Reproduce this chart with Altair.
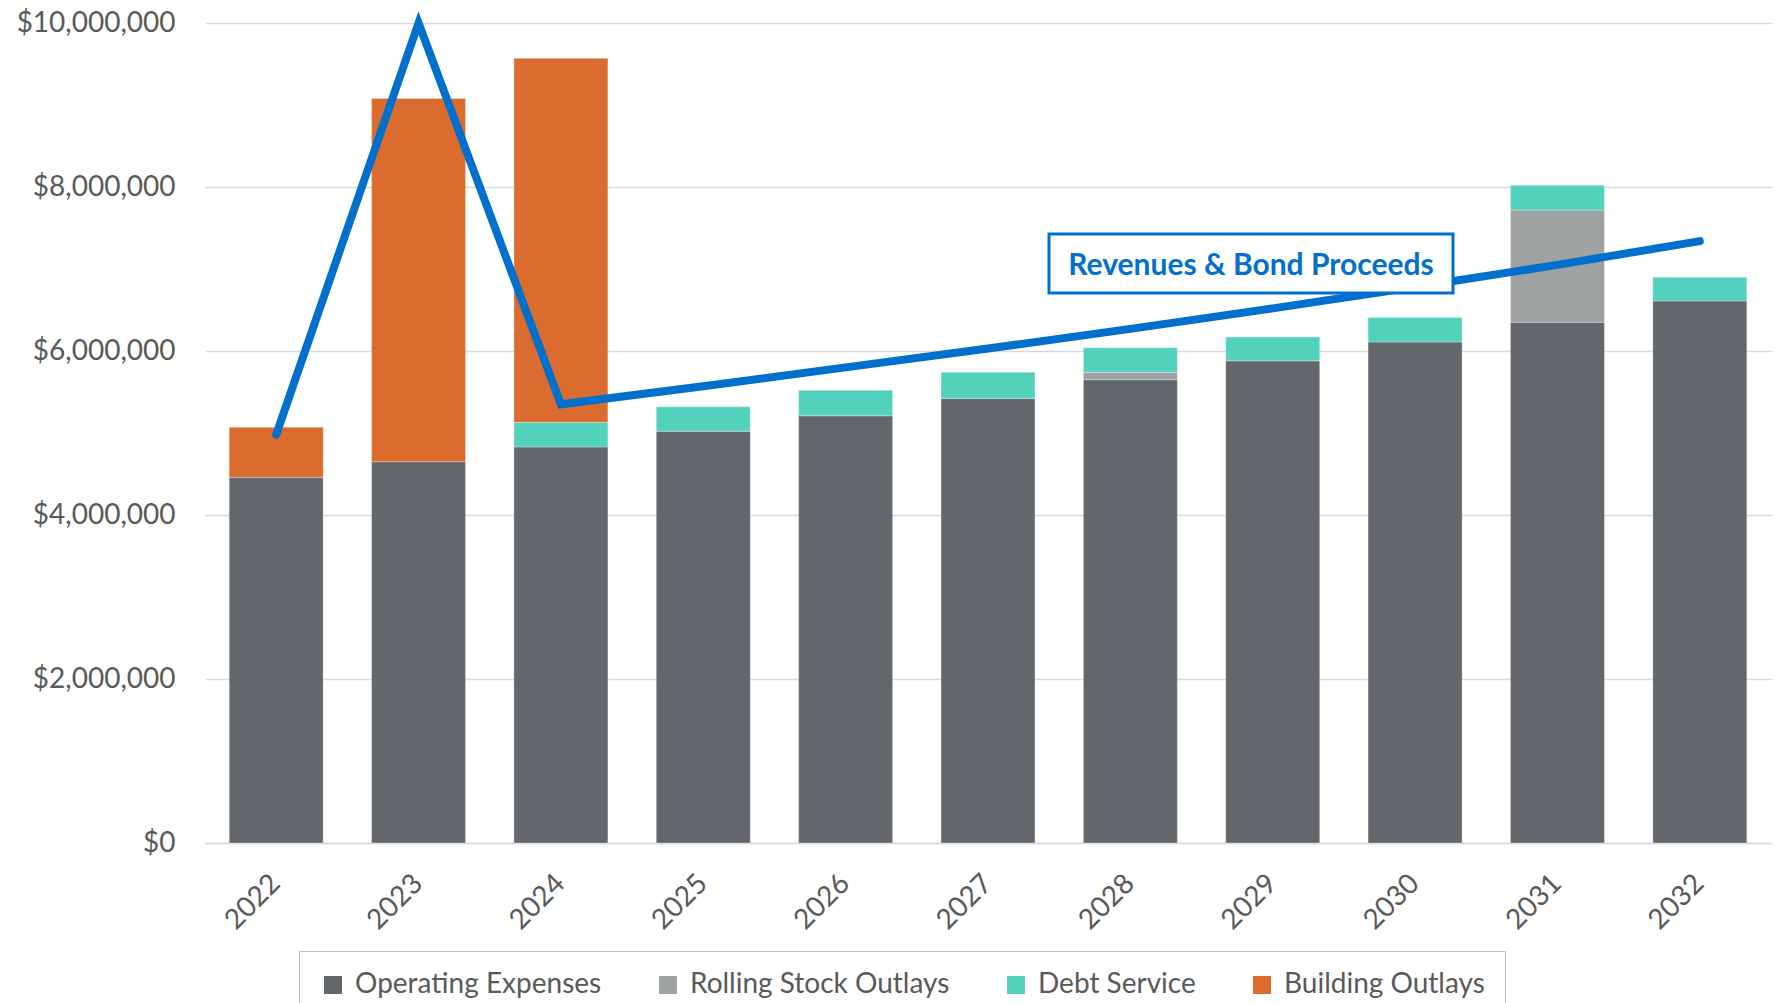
import altair as alt
import pandas as pd

years = ["2022", "2023", "2024", "2025", "2026", "2027", "2028", "2029", "2030", "2031", "2032"]
operating = [4.46, 4.65, 4.83, 5.02, 5.21, 5.42, 5.65, 5.88, 6.11, 6.35, 6.61]
rolling = [0, 0, 0, 0, 0, 0, 0.09, 0, 0, 1.37, 0]
debt = [0, 0, 0.30, 0.30, 0.31, 0.32, 0.30, 0.29, 0.30, 0.30, 0.29]
building = [0.61, 4.43, 4.44, 0, 0, 0, 0, 0, 0, 0, 0]
revenues = [4.98, 10.0, 5.35, 5.57, 5.80, 6.03, 6.27, 6.52, 6.78, 7.05, 7.34]

series_names = ["Operating Expenses", "Rolling Stock Outlays", "Debt Service", "Building Outlays"]
series_colors = ["#63666A", "#9EA2A2", "#52D1BC", "#DC6B2F"]
annotation_text = "Revenues & Bond Proceeds"

rows = []
for i, y in enumerate(years):
    for k, (name, vals) in enumerate(zip(series_names, [operating, rolling, debt, building])):
        if vals[i] > 0:
            rows.append({"year": y, "series": name, "value": vals[i] * 1e6, "order": k})
bars_df = pd.DataFrame(rows)
line_df = pd.DataFrame({"year": years, "value": [v * 1e6 for v in revenues]})
ann_df = pd.DataFrame({"label": [annotation_text]})

FONT = "Lato"
LABEL = "#595959"
BLUE = "#0070CC"

x_enc = alt.X("year:N", sort=years,
              scale=alt.Scale(paddingInner=0.34, paddingOuter=0.17),
              axis=alt.Axis(title=None, labelAngle=-45, labelAlign="right", labelBaseline="middle",
                            labelPadding=36, ticks=False, domainColor="#D9D9D9", domainWidth=1.5,
                            labelFontSize=28, labelColor=LABEL, labelFont=FONT))

y_scale = alt.Scale(domain=[0, 1e7], nice=False)

bars = alt.Chart(bars_df).mark_bar(stroke="#ffffff", strokeWidth=0.6, strokeOpacity=0.5).encode(
    x=x_enc,
    y=alt.Y("value:Q", stack="zero", scale=y_scale,
            axis=alt.Axis(title=None, format="$,.0f", values=[0, 2e6, 4e6, 6e6, 8e6, 1e7],
                          ticks=False, domain=False, labelPadding=30,
                          gridColor="#D9D9D9", gridWidth=1.5,
                          labelFontSize=28, labelColor=LABEL, labelFont=FONT)),
    color=alt.Color("series:N", scale=alt.Scale(domain=series_names, range=series_colors),
                    legend=alt.Legend(title=None, orient="none", legendX=94, legendY=928,
                                      direction="horizontal", columns=4,
                                      symbolType="square", symbolSize=324, symbolStrokeWidth=0,
                                      labelFontSize=28, labelColor=LABEL, labelFont=FONT,
                                      labelLimit=0, labelOffset=8, columnPadding=52, padding=20,
                                      strokeColor="#BFBFBF", fillColor="#ffffff")),
    order=alt.Order("order:Q", sort="ascending"),
)

line = alt.Chart(line_df).mark_line(color=BLUE, strokeWidth=8, strokeCap="round",
                                    strokeJoin="miter", clip=False).encode(
    x=alt.X("year:N", sort=years),
    y=alt.Y("value:Q", scale=y_scale),
)

box = alt.Chart(ann_df).mark_rect(fill="#ffffff", stroke=BLUE, strokeWidth=3).encode(
    x=alt.value(844), x2=alt.value(1248), y=alt.value(211), y2=alt.value(270)
)
label = alt.Chart(ann_df).mark_text(font=FONT, fontSize=30, fontWeight="bold", color=BLUE,
                                    align="center", baseline="middle").encode(
    x=alt.value(1046), y=alt.value(243), text="label:N"
)

chart = alt.layer(bars, line, box, label).properties(
    width=1566, height=820,
    autosize=alt.AutoSizeParams(type="none"),
    padding={"left": 205, "top": 23, "right": 9, "bottom": 160},
    background="#ffffff",
).configure_view(stroke=None)

chart.save("out.html", embed_options={"renderer": "svg", "actions": False})
